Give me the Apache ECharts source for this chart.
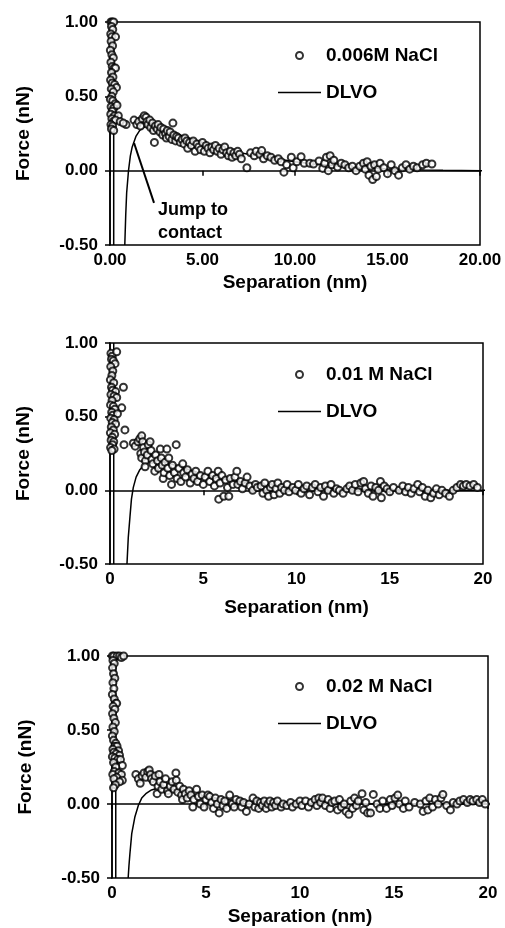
<!DOCTYPE html>
<html><head><meta charset="utf-8">
<script src="https://cdn.jsdelivr.net/npm/echarts@6/dist/echarts.min.js"></script>
<style>html,body{margin:0;padding:0;background:#fff}#c{width:505px;height:928px}</style>
</head><body><div id="c"></div>
<script>
// ---------- data (separation nm, force nN) ----------
const seriesNames = ['0.006M NaCl', '0.01 M NaCl', '0.02 M NaCl'];
const xTicks = [0, 5, 10, 15, 20];
const yTicks = [-0.5, 0, 0.5, 1.0];

const pts006 = [
 [0.05,1.0],[0.12,1.0],[0.2,1.0],[0.08,0.97],[0.15,0.95],[0.04,0.92],[0.1,0.9],[0.3,0.9],[0.06,0.87],[0.14,0.84],[0.02,0.81],[0.1,0.78],[0.18,0.76],[0.05,0.73],[0.12,0.7],[0.22,0.69],[0.3,0.69],[0.08,0.66],[0.16,0.63],[0.03,0.61],[0.12,0.59],[0.25,0.58],[0.35,0.56],[0.07,0.55],[0.18,0.53],[0.1,0.5],[0.02,0.48],[0.15,0.47],[0.28,0.45],[0.06,0.43],[0.2,0.42],[0.38,0.44],[0.12,0.4],[0.04,0.38],[0.24,0.37],[0.45,0.37],[0.1,0.35],[0.18,0.33],[0.3,0.34],[0.05,0.31],[0.14,0.3],[0.55,0.33],[0.08,0.28],[0.2,0.27],[0.87,0.31],[0.72,0.32],
 [1.3,0.34],[1.45,0.31],[1.55,0.33],[1.65,0.3],[1.75,0.35],[1.85,0.37],[1.95,0.36],[2.0,0.33],[2.05,0.31],[2.15,0.34],[2.2,0.29],[2.3,0.32],[2.35,0.27],[2.45,0.3],[2.4,0.19],[2.55,0.28],[2.6,0.31],[2.7,0.26],[2.75,0.29],[2.85,0.24],[2.9,0.28],[3.0,0.25],[3.05,0.22],[3.1,0.27],[3.2,0.23],[3.25,0.26],[3.35,0.21],[3.4,0.32],[3.45,0.24],[3.55,0.2],[3.6,0.23],[3.7,0.22],[3.8,0.19],[3.9,0.21],[4.0,0.18],[4.05,0.22],[4.15,0.2],[4.2,0.15],[4.3,0.19],[4.4,0.17],[4.5,0.2],[4.6,0.13],[4.7,0.18],[4.8,0.16],[4.9,0.14],[5.0,0.19],[5.1,0.13],[5.2,0.17],[5.3,0.15],[5.4,0.12],[5.5,0.16],[5.6,0.14],[5.7,0.17],[5.8,0.13],[5.9,0.15],[6.0,0.11],[6.1,0.14],[6.2,0.16],[6.3,0.12],[6.4,0.1],[6.5,0.13],[6.6,0.09],[6.7,0.12],[6.8,0.1],[6.9,0.13],[7.0,0.11],[7.1,0.08],[7.4,0.02],
 [7.6,0.12],[7.8,0.1],[7.9,0.13],[8.1,0.11],[8.2,0.135],[8.3,0.08],[8.5,0.1],[8.7,0.09],[8.9,0.07],[9.1,0.08],[9.25,0.06],[9.4,-0.01],[9.55,0.04],[9.8,0.09],[9.9,0.02],[10.1,0.06],[10.33,0.094],[10.5,0.05],[10.8,0.05],[11.0,0.045],[11.3,0.065],[11.5,0.015],[11.6,0.05],[11.7,0.09],[11.8,0.0],[11.9,0.1],[12.0,0.04],[12.1,0.07],[12.3,0.025],[12.5,0.05],[12.7,0.04],[12.9,0.02],[13.1,0.03],[13.3,0.0],[13.5,0.03],[13.7,0.05],[13.8,0.01],[13.9,0.06],[14.0,-0.03],[14.1,0.03],[14.2,-0.06],[14.3,0.04],[14.4,-0.04],[14.5,0.01],[14.6,0.05],[14.8,0.02],[15.0,-0.02],[15.2,0.04],[15.4,0.0],[15.6,-0.03],[15.8,0.02],[16.0,0.04],[16.2,0.01],[16.4,0.03],[16.6,0.02],[16.9,0.04],[17.1,0.05],[17.4,0.045]
];
const pts001 = [
 [0.05,0.93],[0.12,0.91],[0.36,0.94],[0.08,0.89],[0.18,0.88],[0.27,0.86],[0.04,0.84],[0.15,0.81],[0.1,0.78],[0.02,0.75],[0.2,0.73],[0.08,0.7],[0.72,0.7],[0.14,0.68],[0.3,0.67],[0.05,0.65],[0.22,0.64],[0.36,0.63],[0.11,0.61],[0.03,0.58],[0.18,0.57],[0.63,0.56],[0.26,0.55],[0.09,0.53],[0.15,0.51],[0.4,0.52],[0.04,0.49],[0.22,0.48],[0.12,0.46],[0.3,0.45],[0.07,0.43],[0.18,0.41],[0.8,0.41],[0.02,0.39],[0.25,0.38],[0.12,0.36],[0.06,0.34],[0.2,0.33],[0.75,0.31],[0.14,0.31],[0.03,0.29],[0.22,0.28],[0.1,0.27],
 [1.25,0.32],[1.35,0.3],[1.5,0.33],[1.6,0.35],[1.7,0.37],[1.75,0.33],[1.8,0.29],[1.65,0.25],[1.7,0.22],[1.85,0.26],[1.9,0.2],[1.88,0.16],[2.0,0.24],[2.05,0.31],[2.15,0.33],[2.2,0.27],[2.25,0.21],[2.3,0.18],[2.4,0.13],[2.45,0.24],[2.55,0.2],[2.6,0.15],[2.7,0.28],[2.75,0.22],[2.8,0.17],[2.85,0.08],[2.9,0.12],[2.95,0.19],[3.05,0.28],[3.1,0.15],[3.15,0.22],[3.2,0.1],[3.3,0.04],[3.35,0.17],[3.45,0.12],[3.55,0.31],[3.6,0.08],[3.7,0.15],[3.8,0.06],[3.9,0.18],[3.95,0.12],[4.05,0.09],[4.15,0.14],[4.3,0.05],[4.4,0.11],[4.5,0.08],[4.6,0.13],[4.7,0.06],[4.85,0.1],[5.0,0.04],[5.1,0.09],[5.25,0.13],[5.35,0.06],[5.5,0.1],[5.6,0.03],[5.7,0.08],[5.8,0.13],[5.83,-0.06],[5.9,0.05],[6.0,0.1],[6.1,-0.04],[6.2,0.07],[6.3,0.02],[6.37,-0.04],[6.45,0.08],[6.6,0.04],[6.7,0.09],[6.8,0.13],[6.85,0.04],[7.0,0.06],[7.1,0.01],[7.25,0.05],[7.35,0.09],[7.5,0.03],[7.65,0.0],[7.8,0.04],[7.9,0.02],
 [8.1,0.03],[8.2,-0.02],[8.3,0.05],[8.4,0.0],[8.5,-0.04],[8.6,0.02],[8.7,0.04],[8.8,-0.03],[8.9,0.01],[9.0,0.05],[9.1,-0.02],[9.2,0.02],[9.35,0.0],[9.5,0.04],[9.6,-0.01],[9.8,0.02],[9.95,0.0],[10.1,0.04],[10.25,-0.02],[10.4,0.01],[10.55,0.03],[10.7,-0.03],[10.85,0.02],[11.0,0.04],[11.15,-0.01],[11.3,0.02],[11.45,-0.04],[11.55,0.03],[11.7,0.0],[11.85,0.04],[12.0,-0.02],[12.15,0.01],[12.3,0.0],[12.5,-0.02],[12.7,0.01],[12.85,0.03],[13.0,0.0],[13.15,0.04],[13.3,-0.01],[13.45,0.05],[13.6,0.06],[13.7,0.01],[13.85,-0.02],[14.0,0.03],[14.1,-0.04],[14.25,0.02],[14.4,0.0],[14.5,0.06],[14.55,-0.05],[14.7,0.03],[14.85,0.01],[15.0,-0.01],[15.2,0.02],[15.5,0.0],[15.7,0.03],[15.85,-0.01],[16.0,0.02],[16.15,-0.02],[16.3,0.01],[16.5,0.04],[16.6,-0.01],[16.75,0.02],[16.9,-0.04],[17.05,0.0],[17.2,-0.05],[17.35,-0.02],[17.5,0.01],[17.65,-0.03],[17.8,0.0],[18.0,-0.02],[18.2,-0.04],[18.4,0.0],[18.6,0.02],[18.8,0.04],[18.95,0.03],[19.1,0.04],[19.3,0.03],[19.5,0.04],[19.7,0.02]
];
const pts002 = [
 [0.02,1.0],[0.1,1.0],[0.27,1.0],[0.4,1.0],[0.5,0.99],[0.62,1.0],[0.05,0.97],[0.12,0.95],[0.03,0.92],[0.08,0.88],[0.15,0.85],[0.05,0.82],[0.1,0.78],[0.02,0.74],[0.12,0.71],[0.2,0.68],[0.25,0.68],[0.06,0.66],[0.15,0.64],[0.03,0.61],[0.1,0.58],[0.18,0.55],[0.05,0.52],[0.12,0.49],[0.02,0.46],[0.08,0.43],[0.2,0.41],[0.15,0.39],[0.27,0.39],[0.05,0.37],[0.35,0.36],[0.1,0.35],[0.22,0.34],[0.4,0.33],[0.02,0.32],[0.15,0.31],[0.3,0.3],[0.45,0.3],[0.08,0.28],[0.55,0.26],[0.2,0.25],[0.12,0.22],[0.35,0.21],[0.04,0.2],[0.5,0.2],[0.25,0.18],[0.1,0.17],[0.55,0.16],[0.4,0.15],[0.18,0.13],[0.08,0.11],
 [1.27,0.2],[1.4,0.17],[1.5,0.14],[1.6,0.19],[1.7,0.21],[1.8,0.18],[1.9,0.22],[1.98,0.23],[2.05,0.2],[2.1,0.17],[2.2,0.15],[2.3,0.19],[2.4,0.07],[2.45,0.12],[2.5,0.2],[2.55,0.15],[2.65,0.1],[2.75,0.13],[2.85,0.17],[2.95,0.09],[3.0,0.07],[3.1,0.12],[3.2,0.15],[3.3,0.1],[3.4,0.21],[3.42,0.16],[3.5,0.08],[3.6,0.12],[3.7,0.06],[3.75,0.03],[3.8,0.1],[3.9,0.07],[4.0,0.04],[4.1,0.09],[4.2,0.06],[4.3,-0.02],[4.35,0.03],[4.5,0.1],[4.6,0.05],[4.7,0.0],[4.8,0.06],[4.9,-0.02],[5.0,0.03],[5.1,0.06],[5.2,0.05],[5.3,0.01],[5.4,-0.03],[5.5,0.04],[5.6,0.0],[5.7,-0.06],[5.8,0.03],[5.9,-0.01],[6.0,0.02],[6.1,-0.03],[6.26,0.06],[6.4,0.0],[6.5,-0.02],[6.6,0.03],[6.8,0.02],[6.9,-0.02],[7.0,0.01],[7.15,-0.05],[7.3,0.0],[7.5,0.04],[7.6,-0.02],
 [7.7,0.02],[7.8,-0.03],[7.9,0.01],[8.0,-0.01],[8.1,0.02],[8.2,-0.03],[8.3,0.0],[8.4,0.02],[8.5,-0.02],[8.6,0.01],[8.7,-0.01],[8.8,0.02],[9.0,-0.02],[9.1,0.0],[9.3,-0.01],[9.5,0.01],[9.6,-0.02],[9.8,0.0],[10.0,0.02],[10.1,-0.01],[10.3,0.02],[10.45,-0.02],[10.6,0.01],[10.8,0.03],[10.9,-0.01],[11.0,0.04],[11.1,0.01],[11.2,0.04],[11.35,-0.01],[11.5,0.03],[11.6,-0.03],[11.7,0.01],[11.85,0.02],[12.0,-0.04],[12.1,0.03],[12.2,-0.02],[12.35,0.0],[12.45,-0.05],[12.6,-0.07],[12.7,0.02],[12.8,-0.03],[12.9,0.04],[13.0,-0.01],[13.1,0.02],[13.3,0.07],[13.4,-0.04],[13.5,0.01],[13.6,-0.06],[13.75,-0.06],[13.9,0.065],[14.1,0.0],[14.25,-0.03],[14.4,0.02],[14.6,-0.03],[14.8,0.03],[14.9,-0.01],[15.05,0.04],[15.2,0.06],[15.3,0.0],[15.5,-0.03],[15.6,0.02],[15.8,-0.02],[16.1,0.01],[16.4,0.0],[16.55,-0.05],[16.7,0.02],[16.8,-0.04],[16.9,0.04],[17.05,-0.02],[17.2,0.03],[17.35,0.0],[17.5,0.04],[17.6,0.065],[17.8,-0.01],[18.0,-0.04],[18.15,0.01],[18.35,0.0],[18.5,0.02],[18.7,0.03],[18.9,0.01],[19.05,0.03],[19.2,0.02],[19.4,0.03],[19.55,0.01],[19.7,0.03],[19.85,0.0]
];

// DLVO theory curves
const dlvoWall = [[0.2,1.0],[0.2,-0.5]];
const dlvo006 = [[0.8,-0.5],[0.85,-0.3],[0.9,-0.15],[1.0,0.0],[1.1,0.1],[1.2,0.16],[1.4,0.23],[1.6,0.27],[1.8,0.29],[2.0,0.3],[2.5,0.29],[3.0,0.27],[4.0,0.23],[5.0,0.19],[6.0,0.15],[7.0,0.12],[8.0,0.1],[9.0,0.08],[10.0,0.06],[11,0.045],[12,0.035],[13,0.025],[14,0.018],[15,0.012],[16,0.008],[17,0.004],[18,0.002],[19,0.001],[20.3,0]];
const dlvo001 = [[0.91,-0.5],[0.98,-0.32],[1.07,-0.18],[1.15,-0.06],[1.25,0.02],[1.4,0.09],[1.6,0.14],[1.8,0.17],[2.0,0.19],[2.3,0.2],[2.6,0.2],[3.0,0.19],[3.5,0.17],[4,0.15],[5,0.11],[6,0.08],[7,0.055],[8,0.04],[9,0.028],[10,0.02],[12,0.01],[14,0.005],[16,0.002],[18,0.001],[20.4,0]];
const dlvo002 = [[0.86,-0.5],[0.9,-0.42],[0.95,-0.34],[1.05,-0.2],[1.22,-0.086],[1.4,-0.01],[1.58,0.04],[1.8,0.07],[2.1,0.095],[2.5,0.11],[3.0,0.105],[3.5,0.09],[4,0.075],[5,0.05],[6,0.03],[7,0.02],[8,0.01],[10,0.004],[12,0.002],[15,0.0],[20.4,0]];
const jumpArrow = [[2.38,-0.217],[1.3,0.186]];

// ---------- chart ----------
const FF = '"Liberation Sans", Arial, sans-serif';
const grids = [
  {left:110, top:22, width:370, height:223},
  {left:110, top:343, width:373, height:221},
  {left:112, top:656, width:376, height:222}
];
const pointSets = [pts006, pts001, pts002];
const dlvoSets = [dlvo006, dlvo001, dlvo002];
const legendTops = [46, 365, 677];
const xNameGaps = [28, 34, 29];

const option = {
  animation: false,
  backgroundColor: '#fff',
  grid: grids.map(g => Object.assign({show:true, borderColor:'#000', borderWidth:1.5, backgroundColor:'transparent'}, g)),
  xAxis: grids.map((g, i) => ({
    type:'value', gridIndex:i, min:xTicks[0], max:xTicks[xTicks.length-1], interval:5,
    name:'Separation (nm)', nameLocation:'middle', nameGap:xNameGaps[i],
    nameTextStyle:{fontSize:19, fontWeight:'bold', fontFamily:FF, color:'#000'},
    axisLine:{lineStyle:{color:'#000', width:1.5}},
    axisTick:{inside:false, length:5, lineStyle:{color:'#000', width:1.5}},
    axisLabel:{margin:7, fontSize:17, fontWeight:'bold', fontFamily:FF, color:'#000',
      formatter: v => i === 0 ? v.toFixed(2) : String(v)},
    splitLine:{show:false}
  })),
  yAxis: grids.map((g, i) => ({
    type:'value', gridIndex:i, min:yTicks[0], max:yTicks[yTicks.length-1], interval:0.5,
    name:'Force (nN)', nameLocation:'middle', nameGap:77,
    nameTextStyle:{fontSize:19, fontWeight:'bold', fontFamily:FF, color:'#000'},
    axisLine:{lineStyle:{color:'#000', width:1.5}},
    axisTick:{inside:false, length:5, lineStyle:{color:'#000', width:1.5}},
    axisLabel:{margin:12, fontSize:17, fontWeight:'bold', fontFamily:FF, color:'#000',
      formatter: v => v.toFixed(2)},
    splitLine:{show:false}
  })),
  legend: grids.map((g, i) => ({
    left:278, top:legendTops[i], orient:'vertical', padding:0,
    itemWidth:43, itemHeight:7, itemGap:18,
    textStyle:{fontSize:19, fontWeight:'bold', fontFamily:FF, color:'#000'},
    data:[{name:seriesNames[i], icon:'emptyCircle'},
          {name:'DLVO', icon:'path://M0 0H43V1.5H0Z', itemStyle:{color:'#000'}}],
    selectedMode:false
  })),
  series: []
};

for (let i = 0; i < 3; i++) {
  option.series.push({
    name: seriesNames[i], type:'scatter', xAxisIndex:i, yAxisIndex:i,
    data: pointSets[i], symbol:'emptyCircle', symbolSize:7,
    itemStyle:{color:'#000', borderColor:'#000', borderWidth:1.6},
    emphasis:{disabled:true}, z:3
  });
  const curve = {
    name:'DLVO', type:'line', xAxisIndex:i, yAxisIndex:i,
    data: dlvoSets[i], symbol:'none', showSymbol:false, smooth:false, clip:false,
    lineStyle:{color:'#000', width:1.5}, itemStyle:{color:'#000'}, z:2
  };
  if (i === 0) {
    curve.markLine = {
      silent:true, symbol:['none','arrow'], symbolSize:[0, 13],
      label:{show:false}, lineStyle:{color:'#000', width:2, type:'solid'},
      data:[[{coord:jumpArrow[0]},{coord:jumpArrow[1]}]]
    };
  }
  option.series.push(curve);
  option.series.push({
    name:'DLVO', type:'line', xAxisIndex:i, yAxisIndex:i,
    data: dlvoWall, symbol:'none', showSymbol:false, clip:false,
    lineStyle:{color:'#000', width:1.5}, itemStyle:{color:'#000'}, z:2
  });
}

option.graphic = [{
  type:'text', left:158, top:199,
  style:{text:'Jump to\ncontact', font:'bold 18px ' + FF, lineHeight:23, fill:'#000'}
}];

const chart = echarts.init(document.getElementById('c'), null, {renderer:'canvas'});
chart.setOption(option);
</script>
</body></html>
